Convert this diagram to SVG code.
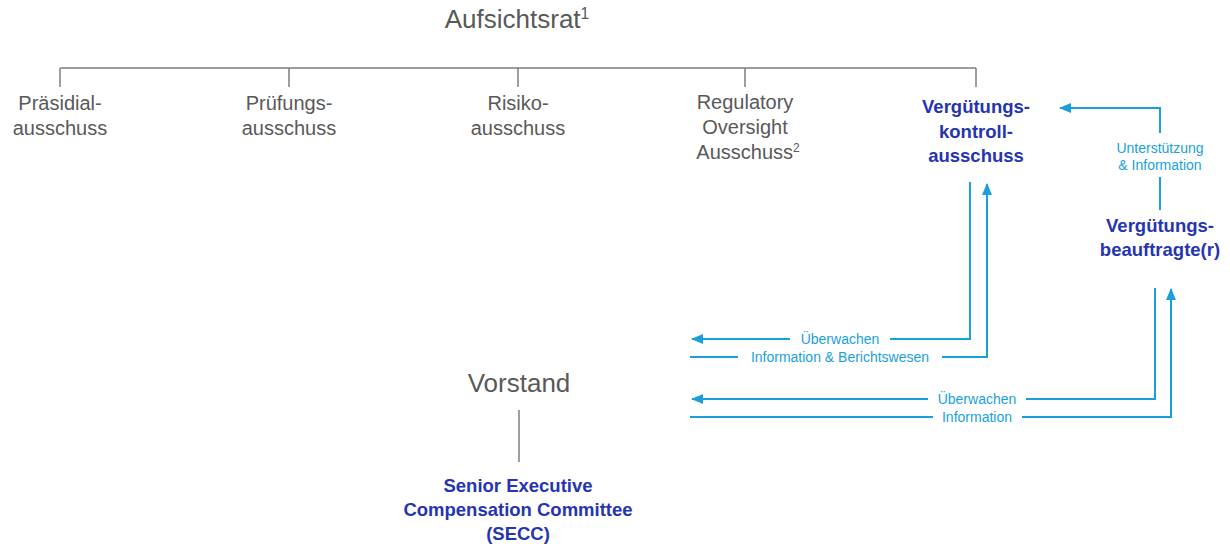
<svg xmlns="http://www.w3.org/2000/svg" width="1230" height="546" viewBox="0 0 1230 546">
<style>
.g{font-family:"Liberation Sans",Arial,sans-serif;fill:#595959;text-anchor:middle}
.b{font-family:"Liberation Sans",Arial,sans-serif;fill:#2634b0;font-weight:bold;text-anchor:middle;font-size:18.5px}
.l{font-family:"Liberation Sans",Arial,sans-serif;fill:#1a9fdb;text-anchor:middle;font-size:14px}
.tree{stroke:#7f7f7f;stroke-width:1.5;fill:none}
.flow{stroke:#1a9fdb;stroke-width:2;fill:none}
.sup{font-size:0.6em}
</style>
<defs>
<marker id="ah" viewBox="0 0 12 10" refX="11" refY="5" markerWidth="12" markerHeight="10" markerUnits="userSpaceOnUse" orient="auto">
<path d="M0,0 L12,5 L0,10 Z" fill="#1a9fdb"/>
</marker>
</defs>
<g id="connectors">
<path class="tree" d="M60,68 H976 M60,68 V87 M289,68 V87 M518,68 V87 M745,68 V87 M976,68 V87"/>
<path class="tree" d="M519,410 V462"/>
<path class="flow" d="M1160,133 V108 H1060" marker-end="url(#ah)"/>
<path class="flow" d="M1160,177 V210"/>
<path class="flow" d="M970,182 V339 H890"/>
<path class="flow" d="M790,339 H692" marker-end="url(#ah)"/>
<path class="flow" d="M942,357 H987 V184" marker-end="url(#ah)"/>
<path class="flow" d="M690,357 H738"/>
<path class="flow" d="M1155,288 V399 H1026"/>
<path class="flow" d="M928,399 H692" marker-end="url(#ah)"/>
<path class="flow" d="M1022,417 H1171 V289" marker-end="url(#ah)"/>
<path class="flow" d="M690,417 H933"/>
<text class="l" x="840" y="344">Überwachen</text>
<text class="l" x="840" y="362">Information &amp; Berichtswesen</text>
<text class="l" x="977" y="404">Überwachen</text>
<text class="l" x="977" y="422">Information</text>
<text class="l" x="1160" y="153">Unterstützung</text>
<text class="l" x="1160" y="170">&amp; Information</text>
</g>
<g id="aufsichtsrat"><text class="g" x="517" y="28" font-size="26">Aufsichtsrat<tspan class="sup" dy="-9">1</tspan></text></g>
<g id="praesidial"><text class="g" x="60" y="110" font-size="20">Präsidial-</text><text class="g" x="60" y="135" font-size="20">ausschuss</text></g>
<g id="pruefungs"><text class="g" x="289" y="110" font-size="20">Prüfungs-</text><text class="g" x="289" y="135" font-size="20">ausschuss</text></g>
<g id="risiko"><text class="g" x="518" y="110" font-size="20">Risiko-</text><text class="g" x="518" y="135" font-size="20">ausschuss</text></g>
<g id="regulatory"><text class="g" x="745" y="109" font-size="20">Regulatory</text><text class="g" x="745" y="134" font-size="20">Oversight</text><text class="g" x="748" y="159" font-size="20">Ausschuss<tspan class="sup" dy="-7">2</tspan></text></g>
<g id="verguetungskontroll"><text class="b" x="976" y="113">Vergütungs-</text><text class="b" x="976" y="138">kontroll-</text><text class="b" x="976" y="162">ausschuss</text></g>
<g id="verguetungsbeauftragte"><text class="b" x="1160" y="232">Vergütungs-</text><text class="b" x="1160" y="256">beauftragte(r)</text></g>
<g id="vorstand"><text class="g" x="519" y="392" font-size="26">Vorstand</text></g>
<g id="secc"><text class="b" x="518" y="492">Senior Executive</text><text class="b" x="518" y="516">Compensation Committee</text><text class="b" x="518" y="540">(SECC)</text></g>
</svg>
